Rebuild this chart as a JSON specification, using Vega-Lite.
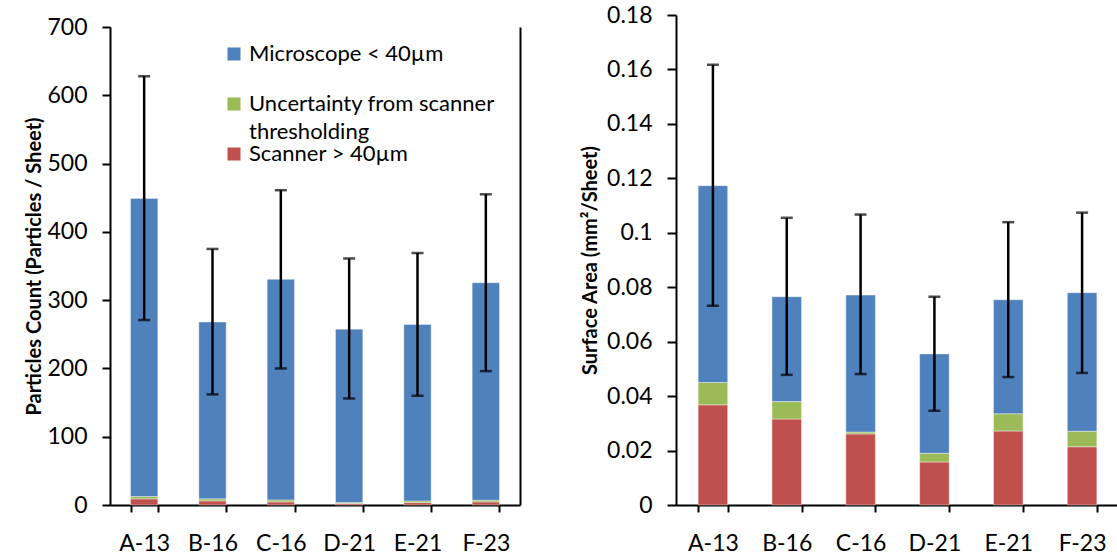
{
  "$schema": "https://vega.github.io/schema/vega-lite/v6.json",
  "padding": {"left": 24, "top": 4, "right": 0, "bottom": 0},
  "background": "white",
  "spacing": 60,
  "config": {
    "view": {"stroke": null},
    "font": "Lato",
    "style": {"guide-label": {"lineHeight": 28}},
    "axis": {
      "domainColor": "black", "domainWidth": 2, "tickColor": "black", "tickWidth": 2,
      "labelColor": "black", "labelFont": "Lato", "labelFontSize": 23, "labelFontWeight": "normal",
      "titleColor": "black", "titleFont": "Lato", "titleFontSize": 20, "titleFontWeight": "bold",
      "grid": false
    }
  },
  "datasets": {
    "count": [
      {"sample": "A-13", "component": "Scanner > 40µm", "rank": 1, "value": 9},
      {"sample": "A-13", "component": "Uncertainty from scanner thresholding", "rank": 2, "value": 3.5},
      {"sample": "A-13", "component": "Microscope < 40µm", "rank": 3, "value": 436.5},
      {"sample": "B-16", "component": "Scanner > 40µm", "rank": 1, "value": 6},
      {"sample": "B-16", "component": "Uncertainty from scanner thresholding", "rank": 2, "value": 3},
      {"sample": "B-16", "component": "Microscope < 40µm", "rank": 3, "value": 259},
      {"sample": "C-16", "component": "Scanner > 40µm", "rank": 1, "value": 4.5},
      {"sample": "C-16", "component": "Uncertainty from scanner thresholding", "rank": 2, "value": 3},
      {"sample": "C-16", "component": "Microscope < 40µm", "rank": 3, "value": 323},
      {"sample": "D-21", "component": "Scanner > 40µm", "rank": 1, "value": 2},
      {"sample": "D-21", "component": "Uncertainty from scanner thresholding", "rank": 2, "value": 1.5},
      {"sample": "D-21", "component": "Microscope < 40µm", "rank": 3, "value": 254},
      {"sample": "E-21", "component": "Scanner > 40µm", "rank": 1, "value": 3.5},
      {"sample": "E-21", "component": "Uncertainty from scanner thresholding", "rank": 2, "value": 2.5},
      {"sample": "E-21", "component": "Microscope < 40µm", "rank": 3, "value": 258.5},
      {"sample": "F-23", "component": "Scanner > 40µm", "rank": 1, "value": 4.5},
      {"sample": "F-23", "component": "Uncertainty from scanner thresholding", "rank": 2, "value": 2.5},
      {"sample": "F-23", "component": "Microscope < 40µm", "rank": 3, "value": 318.5}
    ],
    "countErr": [
      {"sample": "A-13", "lo": 271, "hi": 628},
      {"sample": "B-16", "lo": 162, "hi": 375},
      {"sample": "C-16", "lo": 200, "hi": 461},
      {"sample": "D-21", "lo": 156, "hi": 361},
      {"sample": "E-21", "lo": 160, "hi": 369},
      {"sample": "F-23", "lo": 196, "hi": 455}
    ],
    "area": [
      {"sample": "A-13", "component": "Scanner > 40µm", "rank": 1, "value": 0.0368},
      {"sample": "A-13", "component": "Uncertainty from scanner thresholding", "rank": 2, "value": 0.0082},
      {"sample": "A-13", "component": "Microscope < 40µm", "rank": 3, "value": 0.0723},
      {"sample": "B-16", "component": "Scanner > 40µm", "rank": 1, "value": 0.0316},
      {"sample": "B-16", "component": "Uncertainty from scanner thresholding", "rank": 2, "value": 0.0064},
      {"sample": "B-16", "component": "Microscope < 40µm", "rank": 3, "value": 0.0385},
      {"sample": "C-16", "component": "Scanner > 40µm", "rank": 1, "value": 0.0261},
      {"sample": "C-16", "component": "Uncertainty from scanner thresholding", "rank": 2, "value": 0.0007},
      {"sample": "C-16", "component": "Microscope < 40µm", "rank": 3, "value": 0.0503},
      {"sample": "D-21", "component": "Scanner > 40µm", "rank": 1, "value": 0.0158},
      {"sample": "D-21", "component": "Uncertainty from scanner thresholding", "rank": 2, "value": 0.0032},
      {"sample": "D-21", "component": "Microscope < 40µm", "rank": 3, "value": 0.0365},
      {"sample": "E-21", "component": "Scanner > 40µm", "rank": 1, "value": 0.0272},
      {"sample": "E-21", "component": "Uncertainty from scanner thresholding", "rank": 2, "value": 0.0063},
      {"sample": "E-21", "component": "Microscope < 40µm", "rank": 3, "value": 0.0419},
      {"sample": "F-23", "component": "Scanner > 40µm", "rank": 1, "value": 0.0214},
      {"sample": "F-23", "component": "Uncertainty from scanner thresholding", "rank": 2, "value": 0.0057},
      {"sample": "F-23", "component": "Microscope < 40µm", "rank": 3, "value": 0.0509}
    ],
    "areaErr": [
      {"sample": "A-13", "lo": 0.0732, "hi": 0.1617},
      {"sample": "B-16", "lo": 0.0478, "hi": 0.1055},
      {"sample": "C-16", "lo": 0.0481, "hi": 0.1067},
      {"sample": "D-21", "lo": 0.0346, "hi": 0.0765},
      {"sample": "E-21", "lo": 0.047, "hi": 0.1039},
      {"sample": "F-23", "lo": 0.0485, "hi": 0.1074}
    ]
  },
  "resolve": {"scale": {"color": "independent"}},
  "hconcat": [
    {
      "width": 410,
      "height": 490,
      "resolve": {"axis": {"y": "independent"}},
      "layer": [
        {
          "data": {"name": "count"},
          "mark": {"type": "bar", "stroke": "white", "strokeWidth": 0.8, "strokeOpacity": 0.5},
          "encoding": {
            "x": {"field": "sample", "type": "nominal", "title": null,
                  "scale": {"paddingInner": 0.6, "paddingOuter": 0.3},
                  "axis": {"labelAngle": 0, "tickBand": "extent", "tickSize": 7, "labelPadding": 20}},
            "y": {"field": "value", "type": "quantitative", "stack": "zero",
                  "scale": {"domain": [0, 700], "nice": false, "range": [490, 12]},
                  "title": "Particles Count (Particles / Sheet)",
                  "axis": {"values": [0, 100, 200, 300, 400, 500, 600, 700], "tickSize": 8, "labelPadding": 15, "titlePadding": 2}},
            "color": {"field": "component", "type": "nominal",
                      "scale": {"domain": ["Microscope < 40µm", "Uncertainty from scanner thresholding", "Scanner > 40µm"],
                                "range": ["#4F81BD", "#9BBB59", "#C0504D"]},
                      "legend": {"orient": "none", "legendX": 113, "legendY": 28, "title": null,
                                 "symbolType": "square", "symbolSize": 170, "symbolStrokeWidth": 0,
                                 "labelFont": "Lato", "labelFontSize": 22, "labelColor": "black",
                                 "rowPadding": -4, "labelLimit": 400, "labelOffset": 4,
                                 "labelExpr": "datum.label == 'Uncertainty from scanner thresholding' ? ['Uncertainty from scanner', 'thresholding'] : [datum.label, '']",
                                 "encode": {"labels": {"update": {"lineHeight": {"value": 28}}}}}},
            "order": {"field": "rank", "type": "quantitative"}
          }
        },
        {
          "data": {"name": "countErr"},
          "mark": {"type": "rule", "color": "black", "strokeWidth": 2.5},
          "encoding": {
            "x": {"field": "sample", "type": "nominal"},
            "y": {"field": "lo", "type": "quantitative", "axis": {"orient": "right", "labels": false, "ticks": false, "title": null, "domain": true}},
            "y2": {"field": "hi"}
          }
        },
        {
          "data": {"name": "countErr"},
          "mark": {"type": "tick", "color": "black", "thickness": 2.5, "size": 12},
          "encoding": {
            "x": {"field": "sample", "type": "nominal"},
            "y": {"field": "lo", "type": "quantitative", "axis": null}
          }
        },
        {
          "data": {"name": "countErr"},
          "mark": {"type": "tick", "color": "black", "thickness": 2.5, "size": 12},
          "encoding": {
            "x": {"field": "sample", "type": "nominal"},
            "y": {"field": "hi", "type": "quantitative", "axis": null}
          }
        }
      ]
    },
    {
      "width": 443,
      "height": 490,
      "layer": [
        {
          "data": {"name": "area"},
          "mark": {"type": "bar", "stroke": "white", "strokeWidth": 0.8, "strokeOpacity": 0.5},
          "encoding": {
            "x": {"field": "sample", "type": "nominal", "title": null,
                  "scale": {"paddingInner": 0.6, "paddingOuter": 0.3},
                  "axis": {"labelAngle": 0, "tickBand": "extent", "tickSize": 7, "labelPadding": 20}},
            "y": {"field": "value", "type": "quantitative", "stack": "zero",
                  "scale": {"domain": [0, 0.18], "nice": false},
                  "title": "Surface Area (mm²/Sheet)",
                  "axis": {"values": [0, 0.02, 0.04, 0.06, 0.08, 0.1, 0.12, 0.14, 0.16, 0.18], "format": "~g", "tickSize": 9, "labelPadding": 15, "titlePadding": 6}},
            "color": {"field": "component", "type": "nominal",
                      "scale": {"domain": ["Microscope < 40µm", "Uncertainty from scanner thresholding", "Scanner > 40µm"],
                                "range": ["#4F81BD", "#9BBB59", "#C0504D"]},
                      "legend": null},
            "order": {"field": "rank", "type": "quantitative"}
          }
        },
        {
          "data": {"name": "areaErr"},
          "mark": {"type": "rule", "color": "black", "strokeWidth": 2.5},
          "encoding": {
            "x": {"field": "sample", "type": "nominal"},
            "y": {"field": "lo", "type": "quantitative"},
            "y2": {"field": "hi"}
          }
        },
        {
          "data": {"name": "areaErr"},
          "mark": {"type": "tick", "color": "black", "thickness": 2.5, "size": 12},
          "encoding": {
            "x": {"field": "sample", "type": "nominal"},
            "y": {"field": "lo", "type": "quantitative"}
          }
        },
        {
          "data": {"name": "areaErr"},
          "mark": {"type": "tick", "color": "black", "thickness": 2.5, "size": 12},
          "encoding": {
            "x": {"field": "sample", "type": "nominal"},
            "y": {"field": "hi", "type": "quantitative"}
          }
        }
      ]
    }
  ]
}
